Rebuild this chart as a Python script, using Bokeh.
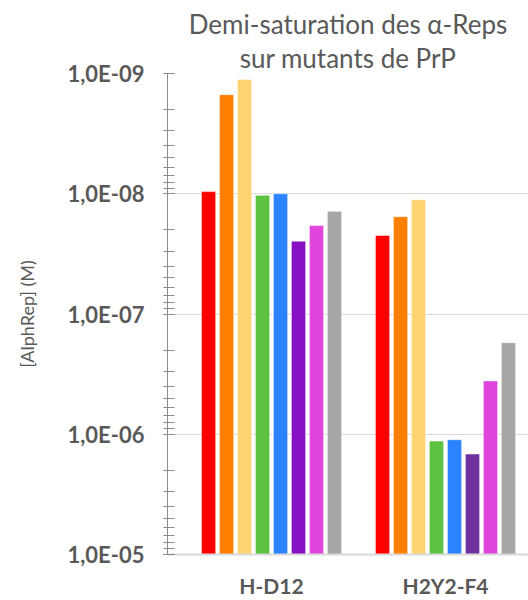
from bokeh.plotting import figure
from bokeh.models import (ColumnDataSource, Range1d, FixedTicker, LogTicker,
                          CustomJSTickFormatter, Title)
from bokeh.transform import dodge
from bokeh.embed import file_html
from bokeh.resources import INLINE

# ---- data ----
categories = ["H-D12", "H2Y2-F4"]
s1 = [9.6e-9, 2.22e-8]
s2 = [1.5e-9, 1.55e-8]
s3 = [1.12e-9, 1.12e-8]
s4 = [1.03e-8, 1.14e-6]
s5 = [1.0e-8, 1.11e-6]
s6 = [2.48e-8, 1.46e-6]
s7 = [1.84e-8, 3.6e-7]
s8 = [1.40e-8, 1.73e-7]
series = [s1, s2, s3, s4, s5, s6, s7, s8]

# colors per series, per category
colors = [
    ["#FF0000", "#FF0000"],
    ["#FF7F00", "#FF7F00"],
    ["#FFD272", "#FFD272"],
    ["#5DC23F", "#5DC23F"],
    ["#2B83FF", "#2B83FF"],
    ["#8511C2", "#7030A0"],
    ["#E145DC", "#E145DC"],
    ["#A6A6A6", "#A6A6A6"],
]

FONT = "Lato"
TXT = "#595959"

p = figure(width=528, height=600, y_axis_type="log",
           x_range=Range1d(-0.598, 1.477),
           y_range=Range1d(1e-5, 1e-9),
           output_backend="svg", toolbar_location=None,
           min_border_left=167, min_border_right=0,
           min_border_top=73, min_border_bottom=46)
p.outline_line_color = None
p.background_fill_color = "white"

data = {"pos": list(range(len(categories)))}
for i, s in enumerate(series):
    data[f"s{i}"] = s
    data[f"c{i}"] = colors[i]
src = ColumnDataSource(data)

n = len(series)
step = 0.1034
for i in range(n):
    p.vbar(x=dodge("pos", (i - (n - 1) / 2) * step, range=p.x_range),
           top=f"s{i}", bottom=1e-5, width=0.082, source=src,
           fill_color=f"c{i}", line_color="white", line_alpha=0.5, line_width=1)

# titles
p.title.text = "Demi-saturation des \u03b1-Reps"
p.title.align = "center"
p.title.text_font = FONT
p.title.text_font_size = "26px"
p.title.text_font_style = "normal"
p.title.text_color = TXT
p.title.standoff = 0
p.add_layout(Title(text="sur mutants de PrP", align="center",
                   text_font=FONT, text_font_size="26px", text_font_style="normal",
                   text_color=TXT, standoff=0), "above")

# y axis
ya = p.yaxis[0]
ya.ticker = LogTicker(desired_num_ticks=5, num_minor_ticks=10)
ya.formatter = CustomJSTickFormatter(code="""
const e = Math.round(Math.log10(tick));
const s = String(Math.abs(e)).padStart(2, '0');
return '1,0E' + (e < 0 ? '-' : '+') + s;
""")
ya.axis_line_color = "#8C8C8C"
ya.major_tick_line_color = "#8C8C8C"
ya.minor_tick_line_color = "#8C8C8C"
ya.major_tick_in = 7
ya.major_tick_out = 4
ya.minor_tick_in = 7
ya.minor_tick_out = 4
ya.major_label_text_font = FONT
ya.major_label_text_font_size = "22px"
ya.major_label_text_font_style = "bold"
ya.major_label_text_color = TXT
ya.major_label_standoff = 19
ya.axis_label = "[AlphRep] (M)"
ya.axis_label_text_font = FONT
ya.axis_label_text_font_size = "18px"
ya.axis_label_text_font_style = "normal"
ya.axis_label_text_color = TXT
ya.axis_label_standoff = 26

# x axis
xa = p.xaxis[0]
xa.ticker = FixedTicker(ticks=list(range(len(categories))))
xa.major_label_overrides = {i: c for i, c in enumerate(categories)}
xa.axis_line_color = "#D9D9D9"
xa.axis_line_width = 2
xa.major_tick_line_color = None
xa.minor_tick_line_color = None
xa.major_tick_in = 0
xa.major_tick_out = 0
xa.major_label_text_font = FONT
xa.major_label_text_font_size = "21px"
xa.major_label_text_font_style = "bold"
xa.major_label_text_color = TXT
xa.major_label_standoff = 18

p.xgrid.grid_line_color = None
p.ygrid.grid_line_color = "#D9D9D9"
p.ygrid.grid_line_width = 1

open("out.html", "w").write(file_html(p, INLINE))
